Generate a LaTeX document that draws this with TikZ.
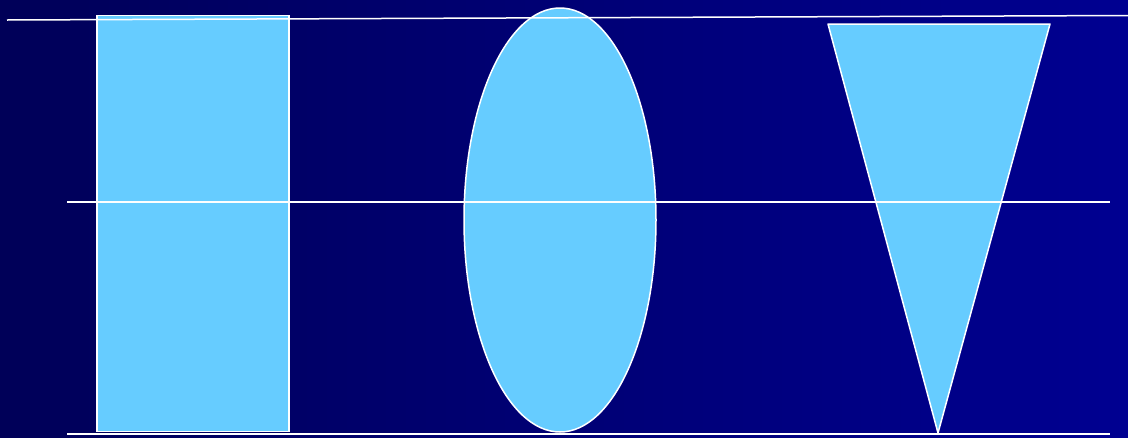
\documentclass[tikz,border=0pt]{standalone}
\usetikzlibrary{shapes.geometric}
\definecolor{bgleft}{RGB}{0,0,88}
\definecolor{bgright}{RGB}{0,0,145}
\definecolor{shapefill}{HTML}{66CCFF}
\begin{document}
\begin{tikzpicture}[x=1pt,y=-1pt,
  shapestyle/.style={draw=white,line width=1.5pt,fill=shapefill},
  guide/.style={draw=white,line width=1.5pt}]
\useasboundingbox (0,0) rectangle (1128,437);
\shade[left color=bgleft,right color=bgright] (0,0) rectangle (1128,437);
% shapes
\draw[shapestyle] (97,15.5) rectangle (289,431.5);
\draw[shapestyle] (560,220) ellipse [x radius=96, y radius=212];
\draw[shapestyle,line join=round] (828,24) -- (1050,24) -- (938,433) -- cycle;
% guide lines
\coordinate (tl) at (7,20);
\coordinate (tr) at (1128,15.5);
\coordinate (ml) at (67,202);
\coordinate (mr) at (1110,202);
\coordinate (bl) at (67,434);
\coordinate (br) at (1110,434);
\draw[guide] (tl) -- (tr);
\draw[guide] (ml) -- (mr);
\draw[guide] (bl) -- (br);
\end{tikzpicture}
\end{document}
